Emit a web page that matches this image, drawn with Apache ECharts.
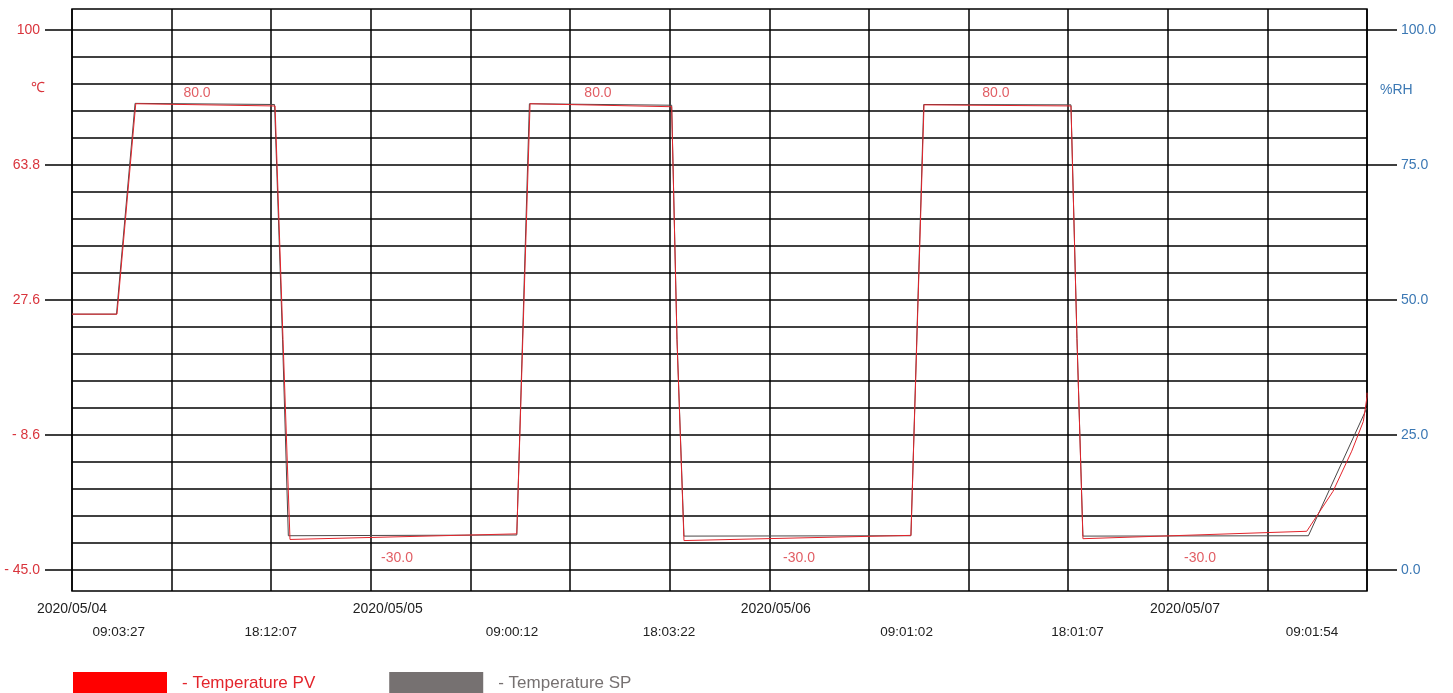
<!DOCTYPE html>
<html>
<head>
<meta charset="utf-8">
<title>Temperature PV / SP</title>
<script src="https://cdn.jsdelivr.net/npm/echarts@6/dist/echarts.min.js"></script>
<style>
  html, body { margin: 0; padding: 0; background: #fff; }
  #chart { width: 1453px; height: 693px; }
</style>
</head>
<body>
<div id="chart"></div>
<script>
// x values are hours elapsed from the left edge of the recorder chart
var pvHours = [0, 2.71, 3.84, 12.23, 12.71, 13.13, 26.79, 27.59, 36.12, 36.44, 36.86, 50.53, 51.32, 60.17, 60.53, 60.89, 74.37, 75.95, 77.08, 77.78, 78.0, 78.0];
var pvTemps = [23.7, 23.7, 80.2, 79.6, 16.9, -36.8, -35.3, 80.2, 79.4, 16.9, -37.1, -35.7, 79.9, 79.6, 17.2, -36.6, -34.6, -23.9, -13.1, -5.1, 1.5, 2.6];

var spHours = [0, 2.68, 3.80, 12.20, 12.68, 13.03, 26.79, 27.55, 36.12, 36.44, 36.86, 50.53, 51.30, 60.17, 60.53, 60.89, 74.47, 78.0];
var spTemps = [23.7, 23.7, 80.3, 80.0, 17.0, -35.8, -35.6, 80.2, 79.8, 17.0, -35.9, -35.8, 80.0, 79.9, 17.2, -35.9, -35.8, -1.4];

// set point annotations written on the chart
var noteText = ['80.0', '80.0', '80.0', '-30.0', '-30.0', '-30.0'];
var noteHours = [7.53, 31.68, 55.65, 19.58, 43.79, 67.94];
var noteTemps = [83.1, 83.1, 83.1, -41.9, -41.9, -41.9];

var dateLabels = ['2020/05/04', '2020/05/05', '2020/05/06', '2020/05/07'];
var datePos = [0, 19.02, 42.39, 67.04];
var timeLabels = ['09:03:27', '18:12:07', '09:00:12', '18:03:22', '09:01:02', '18:01:07', '09:01:54'];
var timePos = [2.82, 11.97, 26.5, 35.96, 50.27, 60.56, 74.69];

var tempTicks = [100, 63.75, 27.5, -8.75, -45];
var tempTickLabels = ['100', '63.8', '27.6', '- 8.6', '- 45.0'];
var rhTicks = [100, 75, 50, 25, 0];

var RED = '#d9343c';
var BLUE = '#3b78b4';
var FONT = 'Liberation Sans, Arial, sans-serif';

// one horizontal grid line every 7.25 degrees, -45 .. 100
var gridTemps = [];
for (var i = 0; i <= 20; i++) {
  gridTemps.push(-45 + i * 7.25);
}

function zip(xs, ys) {
  return xs.map(function (x, i) { return [x, ys[i]]; });
}

var chart = echarts.init(document.getElementById('chart'));
var option = {
  animation: false,
  textStyle: { fontFamily: FONT },
  grid: {
    left: 72,
    right: 86,
    top: 9,
    bottom: 102,
    show: true,
    borderColor: '#000',
    borderWidth: 1.5
  },
  xAxis: [
    {
      type: 'value',
      min: 0,
      max: 78,
      interval: 6,
      axisLine: { show: false },
      axisTick: { show: false },
      splitLine: { show: true, lineStyle: { color: '#000', width: 1.5 } },
      axisLabel: {
        customValues: datePos,
        margin: 11,
        color: '#222',
        fontSize: 14,
        formatter: function (v) {
          var i = datePos.indexOf(v);
          return i >= 0 ? dateLabels[i] : '';
        }
      }
    },
    {
      type: 'value',
      min: 0,
      max: 78,
      interval: 6,
      position: 'bottom',
      axisLine: { show: false },
      axisTick: { show: false },
      splitLine: { show: false },
      axisLabel: {
        customValues: timePos,
        margin: 34,
        color: '#222',
        fontSize: 13.5,
        formatter: function (v) {
          var i = timePos.indexOf(v);
          return i >= 0 ? timeLabels[i] : '';
        }
      }
    }
  ],
  yAxis: [
    {
      // grid lines
      type: 'value',
      min: -50.64,
      max: 105.64,
      position: 'left',
      axisLine: { show: false },
      axisTick: { show: false, customValues: gridTemps },
      axisLabel: { show: false },
      splitLine: { show: true, lineStyle: { color: '#000', width: 1.5 } }
    },
    {
      // temperature scale
      type: 'value',
      min: -50.64,
      max: 105.64,
      position: 'left',
      axisLine: { show: false },
      axisTick: {
        show: true,
        customValues: tempTicks,
        length: 27,
        lineStyle: { color: '#000', width: 1.5 }
      },
      splitLine: { show: false },
      axisLabel: {
        customValues: tempTicks,
        margin: 32,
        color: RED,
        fontSize: 14,
        formatter: function (v) {
          var i = tempTicks.indexOf(v);
          return i >= 0 ? tempTickLabels[i] : '';
        }
      }
    },
    {
      // humidity scale
      type: 'value',
      min: -3.89,
      max: 103.89,
      position: 'right',
      axisLine: { show: false },
      axisTick: {
        show: true,
        customValues: rhTicks,
        length: 30,
        lineStyle: { color: '#000', width: 1.5 }
      },
      splitLine: { show: false },
      axisLabel: {
        customValues: rhTicks,
        margin: 34,
        color: BLUE,
        fontSize: 14,
        formatter: function (v) { return v.toFixed(1); }
      }
    }
  ],
  legend: {
    left: 73,
    top: 672,
    padding: 0,
    icon: 'rect',
    itemWidth: 94,
    itemHeight: 22,
    itemGap: 74,
    formatter: '- {name}',
    textStyle: { fontSize: 17, padding: [0, 0, 0, 10] },
    data: [
      { name: 'Temperature PV', itemStyle: { color: '#ff0000' }, textStyle: { color: '#e3242b' } },
      { name: 'Temperature SP', itemStyle: { color: '#767171' }, textStyle: { color: '#767171' } }
    ]
  },
  graphic: [
    { type: 'text', left: 31, top: 81, style: { text: '℃', fill: RED, fontSize: 14, fontFamily: FONT } },
    { type: 'text', left: 1380, top: 83, style: { text: '%RH', fill: BLUE, fontSize: 14, fontFamily: FONT } }
  ],
  series: [
    {
      name: 'Temperature SP',
      type: 'line',
      xAxisIndex: 0,
      yAxisIndex: 0,
      symbol: 'none',
      color: '#767171',
      lineStyle: { color: '#4a4747', width: 1 },
      data: zip(spHours, spTemps)
    },
    {
      name: 'Temperature PV',
      type: 'line',
      xAxisIndex: 0,
      yAxisIndex: 0,
      symbol: 'none',
      color: '#ff0000',
      lineStyle: { color: '#e3242b', width: 1 },
      data: zip(pvHours, pvTemps)
    },
    {
      name: 'notes',
      type: 'scatter',
      xAxisIndex: 0,
      yAxisIndex: 0,
      symbolSize: 0,
      label: {
        show: true,
        position: 'inside',
        color: RED,
        fontSize: 14,
        formatter: function (p) { return noteText[p.dataIndex]; }
      },
      data: zip(noteHours, noteTemps)
    }
  ]
};
chart.setOption(option);
</script>
</body>
</html>
